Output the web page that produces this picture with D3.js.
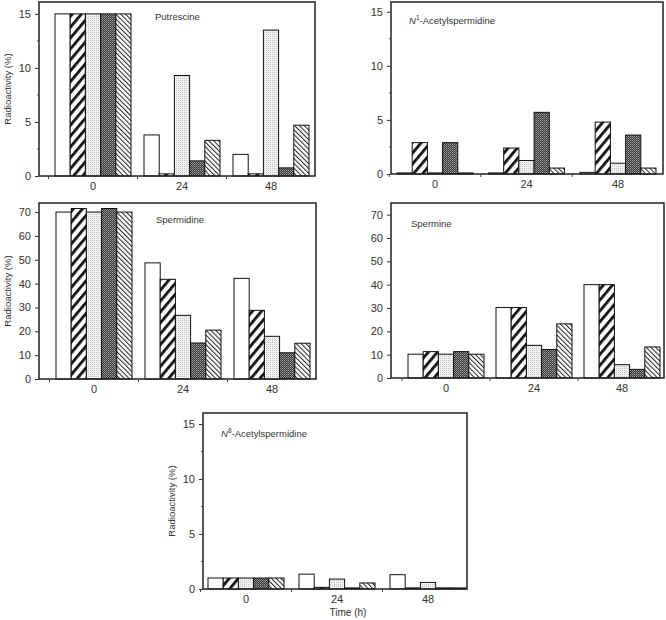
<!DOCTYPE html>
<html>
<head>
<meta charset="utf-8">
<script src="https://cdn.jsdelivr.net/npm/d3@7"></script>
<style>
  body { margin: 0; background: #fff; }
  svg text { font-family: "Liberation Sans", Arial, sans-serif; fill: #333; }
</style>
</head>
<body>
<svg id="chart" width="666" height="620"></svg>
<script>
// time points (h)
const times = ['0', '24', '48'];

// radioactivity (%) per time point, five treatment bars each
const putrescine = [[15, 15, 15, 15, 15], [3.8, 0.2, 9.3, 1.4, 3.3], [2.0, 0.2, 13.5, 0.75, 4.7]];
const n1Acetylspermidine = [[0.1, 2.9, 0.1, 2.9, 0.1], [0.1, 2.4, 1.25, 5.7, 0.55], [0.15, 4.8, 1.0, 3.6, 0.55]];
const spermidine = [[70, 71.5, 70, 71.5, 70], [48.7, 41.8, 26.7, 15.1, 20.5], [42.2, 28.8, 17.9, 11.0, 15.0]];
const spermine = [[10.2, 11.3, 10.2, 11.3, 10.2], [30.2, 30.2, 14.0, 12.2, 23.2], [40.0, 40.0, 5.7, 3.7, 13.3]];
const n8Acetylspermidine = [[1.0, 1.0, 1.0, 1.0, 1.0], [1.35, 0.15, 0.9, 0.1, 0.55], [1.3, 0.1, 0.6, 0.1, 0.1]];

const ticks15 = [0, 5, 10, 15];
const minor15 = [2.5, 7.5, 12.5];
const ticks70 = [0, 10, 20, 30, 40, 50, 60, 70];

const svg = d3.select('#chart');

// fill patterns for the five bars
const defs = svg.append('defs');

const stripes = defs.append('pattern')
  .attr('id', 'p1').attr('patternUnits', 'userSpaceOnUse')
  .attr('width', 7).attr('height', 7)
  .attr('patternTransform', 'rotate(40)');
stripes.append('rect').attr('width', 7).attr('height', 7).attr('fill', '#fff');
stripes.append('rect').attr('width', 2.8).attr('height', 7).attr('fill', '#111');

const lightDots = defs.append('pattern')
  .attr('id', 'p2').attr('patternUnits', 'userSpaceOnUse')
  .attr('width', 2).attr('height', 2);
lightDots.append('rect').attr('width', 2).attr('height', 2).attr('fill', '#f2f2f2');
lightDots.append('rect').attr('width', 1).attr('height', 1).attr('fill', '#c4c4c4');

const darkDots = defs.append('pattern')
  .attr('id', 'p3').attr('patternUnits', 'userSpaceOnUse')
  .attr('width', 2).attr('height', 2);
darkDots.append('rect').attr('width', 2).attr('height', 2).attr('fill', '#3a3a3a');
darkDots.append('rect').attr('width', 1).attr('height', 1).attr('fill', '#a0a0a0');
darkDots.append('rect').attr('x', 1).attr('y', 1).attr('width', 1).attr('height', 1).attr('fill', '#7a7a7a');

const hatch = defs.append('pattern')
  .attr('id', 'p4').attr('patternUnits', 'userSpaceOnUse')
  .attr('width', 3.4).attr('height', 3.4)
  .attr('patternTransform', 'rotate(-45)');
hatch.append('rect').attr('width', 3.4).attr('height', 3.4).attr('fill', '#fff');
hatch.append('rect').attr('width', 1).attr('height', 3.4).attr('fill', '#222');

const fills = ['#fff', 'url(#p1)', 'url(#p2)', 'url(#p3)', 'url(#p4)'];

const panels = [
  {title: 'Putrescine', data: putrescine, yMax: 16.1, yTicks: ticks15, minor: minor15,
   frame: {l: 39, t: 2, r: 315, b: 176}, barStart: 55, step: 89, ylabel: true, tx: 155, ty: 20},
  {title: 'N1', data: n1Acetylspermidine, yMax: 15.9, yTicks: ticks15, minor: minor15,
   frame: {l: 391, t: 2, r: 663, b: 174}, barStart: 397, step: 91.5, ylabel: false, tx: 409, ty: 24},
  {title: 'Spermidine', data: spermidine, yMax: 73.8, yTicks: ticks70, minor: [],
   frame: {l: 39, t: 203, r: 316, b: 379}, barStart: 56, step: 89, ylabel: true, tx: 156, ty: 223},
  {title: 'Spermine', data: spermine, yMax: 75, yTicks: ticks70, minor: [],
   frame: {l: 391, t: 203, r: 664, b: 378}, barStart: 408, step: 88, ylabel: false, tx: 411, ty: 227},
  {title: 'N8', data: n8Acetylspermidine, yMax: 16, yTicks: ticks15, minor: minor15,
   frame: {l: 203, t: 413, r: 467, b: 589}, barStart: 208, step: 91, ylabel: true, tx: 221, ty: 437}
];

const barsWidth = 76;

panels.forEach(p => {
  const f = p.frame;
  const g = svg.append('g');
  const y = d3.scaleLinear().domain([0, p.yMax]).range([f.b, f.t]);
  const gap = p.step - barsWidth;
  const x = d3.scaleBand().domain(times)
    .range([p.barStart - gap / 2, p.barStart - gap / 2 + 3 * p.step])
    .paddingInner(gap / p.step)
    .paddingOuter(gap / 2 / p.step);
  const xi = d3.scaleBand().domain(d3.range(5)).range([0, x.bandwidth()]);

  // bars
  p.data.forEach((vals, gi) => {
    g.selectAll(null).data(vals).join('rect')
      .attr('x', (d, i) => x(times[gi]) + xi(i))
      .attr('y', d => y(d))
      .attr('width', xi.bandwidth())
      .attr('height', d => y(0) - y(d))
      .attr('fill', (d, i) => fills[i])
      .attr('stroke', '#111')
      .attr('stroke-width', 1);
  });

  // frame
  g.append('rect')
    .attr('x', f.l).attr('y', f.t)
    .attr('width', f.r - f.l).attr('height', f.b - f.t)
    .attr('fill', 'none').attr('stroke', '#222').attr('stroke-width', 1.5);

  // y axis
  const ya = g.append('g').attr('transform', `translate(${f.l},0)`)
    .call(d3.axisLeft(y).tickValues(p.yTicks).tickSize(4).tickPadding(4));
  ya.select('.domain').remove();
  ya.selectAll('.tick line').attr('stroke', '#333');
  ya.selectAll('.tick text').attr('font-size', 11).style('font-family', '"Liberation Sans", Arial, sans-serif');
  g.selectAll(null).data(p.minor).join('line')
    .attr('x1', f.l - 2).attr('x2', f.l + 1)
    .attr('y1', d => y(d)).attr('y2', d => y(d))
    .attr('stroke', '#444');

  // x axis: labels at group centres, small ticks at group edges
  const xa = g.append('g').attr('transform', `translate(0,${f.b})`)
    .call(d3.axisBottom(x).tickSize(0).tickPadding(6));
  xa.select('.domain').remove();
  xa.selectAll('.tick text').attr('font-size', 11).style('font-family', '"Liberation Sans", Arial, sans-serif');
  const edges = times.map(t => x(t) - gap / 2);
  g.selectAll(null).data(edges).join('line')
    .attr('x1', d => d).attr('x2', d => d)
    .attr('y1', f.b).attr('y2', f.b + 3)
    .attr('stroke', '#444');

  // title
  const title = g.append('text').attr('x', p.tx).attr('y', p.ty).attr('font-size', 9.5);
  if (p.title === 'N1' || p.title === 'N8') {
    title.append('tspan').attr('font-style', 'italic').text('N');
    title.append('tspan').attr('font-size', 6.5).attr('dy', -4).text(p.title === 'N1' ? '1' : '8');
    title.append('tspan').attr('dy', 4).text('-Acetylspermidine');
  } else {
    title.text(p.title);
  }

  if (p.ylabel) {
    const cx = f.l - 28;
    const cy = (f.t + f.b) / 2;
    g.append('text')
      .attr('transform', `translate(${cx},${cy}) rotate(-90)`)
      .attr('text-anchor', 'middle')
      .attr('font-size', 9.5)
      .text('Radioactivity (%)');
  }
});

svg.append('text')
  .attr('x', 348).attr('y', 616)
  .attr('text-anchor', 'middle')
  .attr('font-size', 10)
  .text('Time (h)');
</script>
</body>
</html>
